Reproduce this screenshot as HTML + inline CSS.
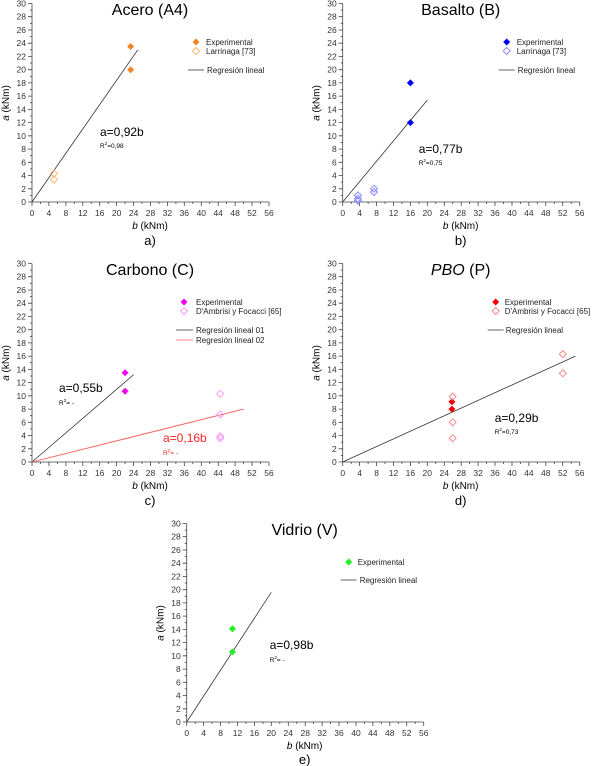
<!DOCTYPE html>
<html><head><meta charset="utf-8"><style>
body{margin:0;background:#fff}
svg{display:block;font-family:"Liberation Sans",sans-serif}
.yl{font-size:8.5px;text-anchor:end;fill:#333}
.xl{font-size:8.5px;text-anchor:middle;fill:#333}
.lg{font-size:8px;fill:#222}
</style></head><body>
<svg width="600" height="766" viewBox="0 0 600 766">
<defs>
<g id="ax" stroke="#444" stroke-width="0.8" fill="none">
<path d="M0 0V-198.5M0 0H237"/>
<path d="M0 0h-4M0 -13.2h-4M0 -26.5h-4M0 -39.7h-4M0 -52.9h-4M0 -66.2h-4M0 -79.4h-4M0 -92.6h-4M0 -105.9h-4M0 -119.1h-4M0 -132.3h-4M0 -145.6h-4M0 -158.8h-4M0 -172h-4M0 -185.3h-4M0 -198.5h-4"/>
<path d="M0 -6.6h-2M0 -19.9h-2M0 -33.1h-2M0 -46.3h-2M0 -59.6h-2M0 -72.8h-2M0 -86h-2M0 -99.3h-2M0 -112.5h-2M0 -125.7h-2M0 -139h-2M0 -152.2h-2M0 -165.4h-2M0 -178.7h-2M0 -191.9h-2"/>
<path d="M0 0v4M16.9 0v4M33.9 0v4M50.8 0v4M67.7 0v4M84.6 0v4M101.6 0v4M118.5 0v4M135.4 0v4M152.3 0v4M169.3 0v4M186.2 0v4M203.1 0v4M220 0v4M237 0v4"/>
<path d="M8.5 0v2M25.4 0v2M42.3 0v2M59.2 0v2M76.2 0v2M93.1 0v2M110 0v2M126.9 0v2M143.9 0v2M160.8 0v2M177.7 0v2M194.6 0v2M211.6 0v2M228.5 0v2"/>
</g>
</defs>

<!-- Panel a -->
<g transform="translate(32,202)">
<use href="#ax"/>
<g class="yl"><text x="-6" y="3">0</text><text x="-6" y="-10.2">2</text><text x="-6" y="-23.5">4</text><text x="-6" y="-36.7">6</text><text x="-6" y="-49.9">8</text><text x="-6" y="-63.2">10</text><text x="-6" y="-76.4">12</text><text x="-6" y="-89.6">14</text><text x="-6" y="-102.9">16</text><text x="-6" y="-116.1">18</text><text x="-6" y="-129.3">20</text><text x="-6" y="-142.6">22</text><text x="-6" y="-155.8">24</text><text x="-6" y="-169">26</text><text x="-6" y="-182.3">28</text><text x="-6" y="-195.5">30</text></g>
<g class="xl"><text x="0" y="14">0</text><text x="16.9" y="14">4</text><text x="33.9" y="14">8</text><text x="50.8" y="14">12</text><text x="67.7" y="14">16</text><text x="84.6" y="14">20</text><text x="101.6" y="14">24</text><text x="118.5" y="14">28</text><text x="135.4" y="14">32</text><text x="152.3" y="14">36</text><text x="169.3" y="14">40</text><text x="186.2" y="14">44</text><text x="203.1" y="14">48</text><text x="220" y="14">52</text><text x="237" y="14">56</text></g>
<text x="118" y="27" font-size="10" text-anchor="middle"><tspan font-style="italic">b</tspan> (kNm)</text>
<text x="118" y="43" font-size="13" text-anchor="middle">a)</text>
<text transform="translate(-23,-99) rotate(-90)" font-size="10" text-anchor="middle"><tspan font-style="italic">a</tspan> (kNm)</text>
<text x="118" y="-187" font-size="16" text-anchor="middle">Acero (A4)</text>
<line x1="0" y1="0" x2="105.8" y2="-152.2" stroke="#333" stroke-width="0.8"/>
<g fill="#f58220"><path d="M95.1 -155.5l3.5 -3.5l3.5 3.5l-3.5 3.5z"/><path d="M95.1 -132.3l3.5 -3.5l3.5 3.5l-3.5 3.5z"/></g>
<g fill="none" stroke="#fbb873"><path d="M18.5 -28.5l3.5 -3.5l3.5 3.5l-3.5 3.5z"/><path d="M18.5 -22.5l3.5 -3.5l3.5 3.5l-3.5 3.5z"/></g>
<path d="M160.5 -160l3.5 -3.5l3.5 3.5l-3.5 3.5z" fill="#f58220"/>
<path d="M160.5 -151l3.5 -3.5l3.5 3.5l-3.5 3.5z" fill="none" stroke="#fbb873"/>
<line x1="156" y1="-132" x2="172" y2="-132" stroke="#333" stroke-width="0.8"/>
<text class="lg" x="174" y="-157">Experimental</text><text class="lg" x="174" y="-148">Larrinaga [73]</text><text class="lg" x="175" y="-129">Regresión lineal</text>
<text x="68" y="-66" font-size="12">a=0,92b</text>
<text x="68" y="-54" font-size="6.5">R<tspan font-size="4.5" dy="-3">2</tspan><tspan dy="3">=0,98</tspan></text>
</g>

<!-- Panel b -->
<g transform="translate(342.7,202)">
<use href="#ax"/>
<g class="yl"><text x="-6" y="3">0</text><text x="-6" y="-10.2">2</text><text x="-6" y="-23.5">4</text><text x="-6" y="-36.7">6</text><text x="-6" y="-49.9">8</text><text x="-6" y="-63.2">10</text><text x="-6" y="-76.4">12</text><text x="-6" y="-89.6">14</text><text x="-6" y="-102.9">16</text><text x="-6" y="-116.1">18</text><text x="-6" y="-129.3">20</text><text x="-6" y="-142.6">22</text><text x="-6" y="-155.8">24</text><text x="-6" y="-169">26</text><text x="-6" y="-182.3">28</text><text x="-6" y="-195.5">30</text></g>
<g class="xl"><text x="0" y="14">0</text><text x="16.9" y="14">4</text><text x="33.9" y="14">8</text><text x="50.8" y="14">12</text><text x="67.7" y="14">16</text><text x="84.6" y="14">20</text><text x="101.6" y="14">24</text><text x="118.5" y="14">28</text><text x="135.4" y="14">32</text><text x="152.3" y="14">36</text><text x="169.3" y="14">40</text><text x="186.2" y="14">44</text><text x="203.1" y="14">48</text><text x="220" y="14">52</text><text x="237" y="14">56</text></g>
<text x="118" y="27" font-size="10" text-anchor="middle"><tspan font-style="italic">b</tspan> (kNm)</text>
<text x="118" y="43" font-size="13" text-anchor="middle">b)</text>
<text transform="translate(-23,-99) rotate(-90)" font-size="10" text-anchor="middle"><tspan font-style="italic">a</tspan> (kNm)</text>
<text x="118" y="-187" font-size="16" text-anchor="middle">Basalto (B)</text>
<line x1="0" y1="0" x2="84.6" y2="-101.9" stroke="#333" stroke-width="0.8"/>
<g fill="#0000ee"><path d="M64.2 -119.1l3.5 -3.5l3.5 3.5l-3.5 3.5z"/><path d="M64.2 -79.4l3.5 -3.5l3.5 3.5l-3.5 3.5z"/></g>
<g fill="none" stroke="#8888ff"><path d="M11.7 -6.6l3.5 -3.5l3.5 3.5l-3.5 3.5z"/><path d="M11.7 -3.3l3.5 -3.5l3.5 3.5l-3.5 3.5z"/><path d="M11.7 -1.3l3.5 -3.5l3.5 3.5l-3.5 3.5z"/><path d="M27.8 -13.2l3.5 -3.5l3.5 3.5l-3.5 3.5z"/><path d="M27.8 -9.9l3.5 -3.5l3.5 3.5l-3.5 3.5z"/></g>
<path d="M160.5 -160l3.5 -3.5l3.5 3.5l-3.5 3.5z" fill="#0000ee"/>
<path d="M160.5 -151l3.5 -3.5l3.5 3.5l-3.5 3.5z" fill="none" stroke="#8888ff"/>
<line x1="156" y1="-132" x2="172" y2="-132" stroke="#333" stroke-width="0.8"/>
<text class="lg" x="174" y="-157">Experimental</text><text class="lg" x="174" y="-148">Larrinaga [73]</text><text class="lg" x="175" y="-129">Regresión lineal</text>
<text x="76" y="-49" font-size="12">a=0,77b</text>
<text x="76" y="-37" font-size="6.5">R<tspan font-size="4.5" dy="-3">2</tspan><tspan dy="3">=0,75</tspan></text>
</g>

<!-- Panel c -->
<g transform="translate(32,462)">
<use href="#ax"/>
<g class="yl"><text x="-6" y="3">0</text><text x="-6" y="-10.2">2</text><text x="-6" y="-23.5">4</text><text x="-6" y="-36.7">6</text><text x="-6" y="-49.9">8</text><text x="-6" y="-63.2">10</text><text x="-6" y="-76.4">12</text><text x="-6" y="-89.6">14</text><text x="-6" y="-102.9">16</text><text x="-6" y="-116.1">18</text><text x="-6" y="-129.3">20</text><text x="-6" y="-142.6">22</text><text x="-6" y="-155.8">24</text><text x="-6" y="-169">26</text><text x="-6" y="-182.3">28</text><text x="-6" y="-195.5">30</text></g>
<g class="xl"><text x="0" y="14">0</text><text x="16.9" y="14">4</text><text x="33.9" y="14">8</text><text x="50.8" y="14">12</text><text x="67.7" y="14">16</text><text x="84.6" y="14">20</text><text x="101.6" y="14">24</text><text x="118.5" y="14">28</text><text x="135.4" y="14">32</text><text x="152.3" y="14">36</text><text x="169.3" y="14">40</text><text x="186.2" y="14">44</text><text x="203.1" y="14">48</text><text x="220" y="14">52</text><text x="237" y="14">56</text></g>
<text x="118" y="27" font-size="10" text-anchor="middle"><tspan font-style="italic">b</tspan> (kNm)</text>
<text x="118" y="43" font-size="13" text-anchor="middle">c)</text>
<text transform="translate(-23,-99) rotate(-90)" font-size="10" text-anchor="middle"><tspan font-style="italic">a</tspan> (kNm)</text>
<text x="118" y="-187" font-size="16" text-anchor="middle">Carbono (C)</text>
<line x1="0" y1="0" x2="101.6" y2="-87.3" stroke="#333" stroke-width="0.8"/>
<line x1="0" y1="0" x2="211.6" y2="-52.9" stroke="#ff5555" stroke-width="0.9"/>
<g fill="#ee00ee"><path d="M89.6 -89.3l3.5 -3.5l3.5 3.5l-3.5 3.5z"/><path d="M89.6 -70.8l3.5 -3.5l3.5 3.5l-3.5 3.5z"/></g>
<g fill="none" stroke="#f49cf4"><path d="M184.8 -68.2l3.5 -3.5l3.5 3.5l-3.5 3.5z"/><path d="M184.8 -47.6l3.5 -3.5l3.5 3.5l-3.5 3.5z"/><path d="M184.8 -25.8l3.5 -3.5l3.5 3.5l-3.5 3.5z"/><path d="M184.8 -23.8l3.5 -3.5l3.5 3.5l-3.5 3.5z"/></g>
<path d="M148.5 -160l3.5 -3.5l3.5 3.5l-3.5 3.5z" fill="#ee00ee"/>
<path d="M148.5 -151l3.5 -3.5l3.5 3.5l-3.5 3.5z" fill="none" stroke="#f49cf4"/>
<line x1="144" y1="-132" x2="161" y2="-132" stroke="#333" stroke-width="0.8"/>
<line x1="144" y1="-122" x2="161" y2="-122" stroke="#ff5555" stroke-width="0.8"/>
<text class="lg" x="164" y="-157">Experimental</text><text class="lg" x="164" y="-148">D'Ambrisi y Focacci [65]</text><text class="lg" x="164" y="-129">Regresión lineal 01</text><text class="lg" x="164" y="-119">Regresión lineal 02</text>
<text x="27" y="-70" font-size="12">a=0,55b</text>
<text x="27" y="-57" font-size="6.5">R<tspan font-size="4.5" dy="-3">2</tspan><tspan dy="3">= -</tspan></text>
<text x="131" y="-20" font-size="12" fill="#ff2222">a=0,16b</text>
<text x="131" y="-7" font-size="6.5" fill="#ff2222">R<tspan font-size="4.5" dy="-3">2</tspan><tspan dy="3">= -</tspan></text>
</g>

<!-- Panel d -->
<g transform="translate(342.7,462)">
<use href="#ax"/>
<g class="yl"><text x="-6" y="3">0</text><text x="-6" y="-10.2">2</text><text x="-6" y="-23.5">4</text><text x="-6" y="-36.7">6</text><text x="-6" y="-49.9">8</text><text x="-6" y="-63.2">10</text><text x="-6" y="-76.4">12</text><text x="-6" y="-89.6">14</text><text x="-6" y="-102.9">16</text><text x="-6" y="-116.1">18</text><text x="-6" y="-129.3">20</text><text x="-6" y="-142.6">22</text><text x="-6" y="-155.8">24</text><text x="-6" y="-169">26</text><text x="-6" y="-182.3">28</text><text x="-6" y="-195.5">30</text></g>
<g class="xl"><text x="0" y="14">0</text><text x="16.9" y="14">4</text><text x="33.9" y="14">8</text><text x="50.8" y="14">12</text><text x="67.7" y="14">16</text><text x="84.6" y="14">20</text><text x="101.6" y="14">24</text><text x="118.5" y="14">28</text><text x="135.4" y="14">32</text><text x="152.3" y="14">36</text><text x="169.3" y="14">40</text><text x="186.2" y="14">44</text><text x="203.1" y="14">48</text><text x="220" y="14">52</text><text x="237" y="14">56</text></g>
<text x="118" y="27" font-size="10" text-anchor="middle"><tspan font-style="italic">b</tspan> (kNm)</text>
<text x="118" y="43" font-size="13" text-anchor="middle">d)</text>
<text transform="translate(-23,-99) rotate(-90)" font-size="10" text-anchor="middle"><tspan font-style="italic">a</tspan> (kNm)</text>
<text x="118" y="-187" font-size="16" text-anchor="middle"><tspan font-style="italic">PBO</tspan> (P)</text>
<line x1="0" y1="0" x2="232.8" y2="-105.9" stroke="#333" stroke-width="0.8"/>
<g fill="#ee0000"><path d="M105.7 -60.2l3.5 -3.5l3.5 3.5l-3.5 3.5z"/><path d="M105.7 -52.9l3.5 -3.5l3.5 3.5l-3.5 3.5z"/></g>
<g fill="none" stroke="#f58a8a"><path d="M106.5 -65.5l3.5 -3.5l3.5 3.5l-3.5 3.5z"/><path d="M106.5 -39.7l3.5 -3.5l3.5 3.5l-3.5 3.5z"/><path d="M106.5 -23.8l3.5 -3.5l3.5 3.5l-3.5 3.5z"/><path d="M216.6 -107.9l3.5 -3.5l3.5 3.5l-3.5 3.5z"/><path d="M216.6 -88.7l3.5 -3.5l3.5 3.5l-3.5 3.5z"/></g>
<path d="M149.5 -160l3.5 -3.5l3.5 3.5l-3.5 3.5z" fill="#ee0000"/>
<path d="M149.5 -151l3.5 -3.5l3.5 3.5l-3.5 3.5z" fill="none" stroke="#f58a8a"/>
<line x1="145" y1="-132" x2="161" y2="-132" stroke="#333" stroke-width="0.8"/>
<text class="lg" x="162" y="-157">Experimental</text><text class="lg" x="162" y="-148">D'Ambrisi y Focacci [65]</text><text class="lg" x="163" y="-129">Regresión lineal</text>
<text x="152" y="-40" font-size="12">a=0,29b</text>
<text x="152" y="-28" font-size="6.5">R<tspan font-size="4.5" dy="-3">2</tspan><tspan dy="3">=0,73</tspan></text>
</g>

<!-- Panel e -->
<g transform="translate(186.7,722)">
<use href="#ax"/>
<g class="yl"><text x="-6" y="3">0</text><text x="-6" y="-10.2">2</text><text x="-6" y="-23.5">4</text><text x="-6" y="-36.7">6</text><text x="-6" y="-49.9">8</text><text x="-6" y="-63.2">10</text><text x="-6" y="-76.4">12</text><text x="-6" y="-89.6">14</text><text x="-6" y="-102.9">16</text><text x="-6" y="-116.1">18</text><text x="-6" y="-129.3">20</text><text x="-6" y="-142.6">22</text><text x="-6" y="-155.8">24</text><text x="-6" y="-169">26</text><text x="-6" y="-182.3">28</text><text x="-6" y="-195.5">30</text></g>
<g class="xl"><text x="0" y="14">0</text><text x="16.9" y="14">4</text><text x="33.9" y="14">8</text><text x="50.8" y="14">12</text><text x="67.7" y="14">16</text><text x="84.6" y="14">20</text><text x="101.6" y="14">24</text><text x="118.5" y="14">28</text><text x="135.4" y="14">32</text><text x="152.3" y="14">36</text><text x="169.3" y="14">40</text><text x="186.2" y="14">44</text><text x="203.1" y="14">48</text><text x="220" y="14">52</text><text x="237" y="14">56</text></g>
<text x="118" y="27" font-size="10" text-anchor="middle"><tspan font-style="italic">b</tspan> (kNm)</text>
<text x="118" y="42" font-size="13" text-anchor="middle">e)</text>
<text transform="translate(-23,-99) rotate(-90)" font-size="10" text-anchor="middle"><tspan font-style="italic">a</tspan> (kNm)</text>
<text x="118" y="-187" font-size="16" text-anchor="middle">Vidrio (V)</text>
<line x1="0" y1="0" x2="84.6" y2="-129.7" stroke="#333" stroke-width="0.8"/>
<g fill="#22ee22"><path d="M42.2 -93.3l3.5 -3.5l3.5 3.5l-3.5 3.5z"/><path d="M42.2 -70.1l3.5 -3.5l3.5 3.5l-3.5 3.5z"/></g>
<path d="M158.5 -160l3.5 -3.5l3.5 3.5l-3.5 3.5z" fill="#22ee22"/>
<line x1="154" y1="-142" x2="170" y2="-142" stroke="#333" stroke-width="0.8"/>
<text class="lg" x="171" y="-157">Experimental</text><text class="lg" x="173" y="-139">Regresión lineal</text>
<text x="83" y="-73" font-size="12">a=0,98b</text>
<text x="83" y="-60" font-size="6.5">R<tspan font-size="4.5" dy="-3">2</tspan><tspan dy="3">= -</tspan></text>
</g>
</svg>
</body></html>
